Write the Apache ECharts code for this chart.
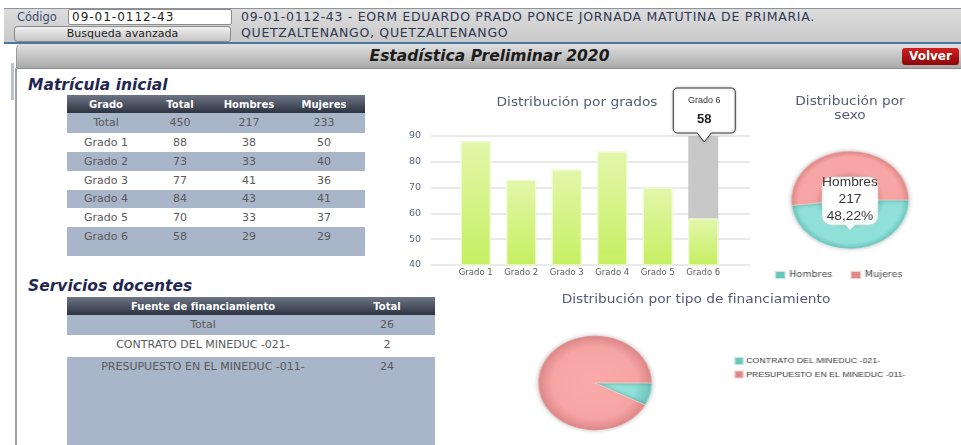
<!DOCTYPE html>
<html lang="es">
<head>
<meta charset="utf-8">
<title>Estadística Preliminar 2020</title>
<script src="https://cdn.jsdelivr.net/npm/echarts/dist/echarts.min.js"></script>
<style>
  html, body { margin: 0; padding: 0; }
  body {
    width: 961px; height: 445px; overflow: hidden; position: relative;
    background: #fff; font-family: 'DejaVu Sans', Verdana, sans-serif;
  }
  .abs { position: absolute; }
  .topbar { left: 4px; top: 8px; width: 957px; height: 34px; background: linear-gradient(#dcdcdc, #c9c9c9); border-top: 1px solid #8d93a0; }
  .blue-line { left: 4px; top: 42px; width: 957px; height: 2px; background: #4a78a6; }
  .lbl-codigo { left: 17px; top: 10px; font-size: 11.5px; line-height: 15px; color: #3d4c78; }
  .input { left: 68px; top: 9px; width: 159px; height: 14px; background: #fff; border: 1px solid #8c8c8c; border-radius: 2px;
    font-size: 12px; line-height: 14px; letter-spacing: 1px; color: #222; padding-left: 3px; }
  .btn { left: 14px; top: 26px; width: 215px; height: 14px; border: 1px solid #8a8a8a; border-radius: 3px;
    background: linear-gradient(#f0f0f0, #c4c4c4); font-size: 11px; line-height: 14px; text-align: center; color: #222; }
  .school { left: 241px; top: 9px; font-size: 12.5px; line-height: 16px; letter-spacing: 0.7px; color: #2f3652; }
  .titlebar { left: 16px; top: 44px; width: 945px; height: 24px; border-radius: 5px 0 0 0;
    background: linear-gradient(#e0e0e0, #aaaaaa); border-bottom: 1px solid #8c8c8c; border-left: 1px solid #9a9a9a;
    text-align: center; font-size: 15.5px; line-height: 25px; font-weight: bold; font-style: italic; color: #1b1b1b; }
  .volver { left: 902px; top: 48px; width: 57px; height: 17px; border-radius: 3px;
    background: linear-gradient(#d22020, #8a0808); color: #fff; font-weight: bold; font-size: 12px; line-height: 17px; text-align: center; }
  .leftline { left: 15px; top: 68px; width: 2px; height: 377px; background: #a2a2a2; }
  .scrollmark { left: 11px; top: 63px; width: 3px; height: 37px; background: #b9c1d2; }
  .heading { font-size: 15.5px; font-weight: bold; font-style: italic; color: #1f2752; line-height: 18px; }
  table.grid { position: absolute; border-collapse: collapse; table-layout: fixed; }
  table.grid th { background: linear-gradient(#6d7586, #2d3340); color: #fff; font-size: 10px; font-weight: bold; height: 18px; padding: 0; text-align: center; }
  table.grid td { padding: 0; text-align: center; vertical-align: top; font-size: 11px; color: #5a5a5a; }
  table.grid tr.alt td { background: #a9b5c9; }
  #main { position: absolute; left: 0; top: 0; width: 961px; height: 445px; z-index: 3; pointer-events: none; }
  .pie { position: absolute; z-index: 2; transform-origin: 0 0; }
</style>
</head>
<body>
<div class="abs topbar"></div>
<div class="abs blue-line"></div>
<div class="abs lbl-codigo">Código</div>
<div class="abs input">09-01-0112-43</div>
<div class="abs btn">Busqueda avanzada</div>
<div class="abs school">09-01-0112-43 - EORM EDUARDO PRADO PONCE JORNADA MATUTINA DE PRIMARIA.<br>QUETZALTENANGO, QUETZALTENANGO</div>
<div class="abs titlebar">Estadística Preliminar 2020</div>
<div class="abs volver">Volver</div>
<div class="abs leftline"></div>
<div class="abs scrollmark"></div>

<div class="abs heading" style="left:28px;top:76px">Matrícula inicial</div>
<table class="grid" id="tblMatricula" style="left:67px;top:95px;width:298px"></table>

<div class="abs heading" style="left:28px;top:277px">Servicios docentes</div>
<table class="grid" id="tblDocentes" style="left:67px;top:297px;width:368px"></table>

<div id="pieSexo" class="pie"></div>
<div id="pieFin" class="pie"></div>
<div id="main"></div>

<script>
// datos
const grados = ['Grado 1', 'Grado 2', 'Grado 3', 'Grado 4', 'Grado 5', 'Grado 6']
const totalPorGrado = [88, 73, 77, 84, 70, 58]
const hombresPorGrado = [38, 33, 41, 43, 33, 29]
const mujeresPorGrado = [50, 40, 36, 41, 37, 29]
const sexos = ['Hombres', 'Mujeres']
const fuentes = ['CONTRATO DEL MINEDUC -021-', 'PRESUPUESTO EN EL MINEDUC -011-']
const docentesPorFuente = [2, 24]
const yMin = 40, yMax = 90, yStep = 10
const hoverIdx = 5  // barra resaltada (tooltip)

const sum = a => a.reduce((s, v) => s + v, 0)
const totalHombres = sum(hombresPorGrado)
const totalMujeres = sum(mujeresPorGrado)
const totalAlumnos = sum(totalPorGrado)

// tablas
function buildTable(id, head, rows, widths, heights) {
  const t = document.getElementById(id)
  let html = '<colgroup>' + widths.map(w => `<col style="width:${w}px">`).join('') + '</colgroup>'
  html += '<tr>' + head.map(h => `<th>${h}</th>`).join('') + '</tr>'
  rows.forEach((r, i) => {
    const h = heights[i]
    html += `<tr class="${i % 2 === 0 ? 'alt' : ''}">` +
      r.map(c => `<td style="height:${h}px;line-height:${Math.min(h, 20)}px">${c}</td>`).join('') + '</tr>'
  })
  t.innerHTML = html
}
buildTable('tblMatricula', ['Grado', 'Total', 'Hombres', 'Mujeres'],
  [['Total', totalAlumnos, totalHombres, totalMujeres]].concat(
    grados.map((g, i) => [g, totalPorGrado[i], hombresPorGrado[i], mujeresPorGrado[i]])),
  [78, 70, 68, 82], [20, 19, 19, 19, 18, 19, 29])
buildTable('tblDocentes', ['Fuente de financiamiento', 'Total'],
  [['Total', sum(docentesPorFuente)]].concat(fuentes.map((f, i) => [f, docentesPorFuente[i]])),
  [272, 96], [20, 22, 92])

// pies (estirados horizontalmente como en la captura)
const STRETCH = 1.2
const TEAL = '#8fe0d8', SALMON = '#f7a4a4'
function radial(cx, cy, r, stops) {
  return { type: 'radial', x: cx, y: cy, r: r, global: true,
    colorStops: stops.map(s => ({ offset: s[0], color: s[1] })) }
}
function makePie(id, box, center, radius, inner, names, values, legend) {
  const el = document.getElementById(id)
  el.style.left = box.left + 'px'
  el.style.top = box.top + 'px'
  el.style.width = box.width + 'px'
  el.style.height = box.height + 'px'
  el.style.transform = `scaleX(${STRETCH})`
  const cx = (center[0] - box.left) / STRETCH, cy = center[1] - box.top
  const k = inner / radius
  const tealStops = inner ? [[k, '#6fcac0'], [k + 0.12, TEAL], [0.88, TEAL], [1, '#6cc6bc']]
                          : [[0, '#97e6de'], [0.7, TEAL], [1, '#6cc6bc']]
  const salStops = inner ? [[k, '#e58e8e'], [k + 0.12, SALMON], [0.88, SALMON], [1, '#e08989']]
                         : [[0, '#fbaaaa'], [0.75, SALMON], [1, '#de8888']]
  const chart = echarts.init(el)
  chart.setOption({
    animation: false,
    textStyle: { fontFamily: 'DejaVu Sans' },
    color: [TEAL, SALMON],
    legend: Object.assign({ icon: 'rect', data: names, selectedMode: false, padding: 0 }, legend),
    series: [{
      type: 'pie',
      center: [cx, cy],
      radius: [inner, radius],
      startAngle: 0,
      clockwise: true,
      silent: true,
      label: { show: false },
      labelLine: { show: false },
      itemStyle: { borderColor: 'rgba(255,255,255,0.6)', borderWidth: 0.6, shadowBlur: 4, shadowColor: 'rgba(0,0,0,0.25)' },
      data: names.map((n, i) => ({
        name: n, value: values[i],
        itemStyle: { color: radial(cx, cy, radius, i === 0 ? tealStops : salStops) }
      }))
    }]
  })
}

const SEX_C = [850, 200]
const FIN_C = [595, 383]
makePie('pieSexo', { left: 740, top: 140, width: 184, height: 150 }, SEX_C, 49, 23,
  sexos, [totalHombres, totalMujeres],
  { left: 28, top: 130, itemWidth: 9, itemHeight: 8, itemGap: 14,
    textStyle: { fontSize: 8, color: '#444', padding: [0, 0, 0, -2] } })
makePie('pieFin', { left: 520, top: 320, width: 330, height: 125 }, FIN_C, 47.5, 0,
  fuentes, docentesPorFuente,
  { orient: 'vertical', left: 177.5, top: 36, itemWidth: 8, itemHeight: 8, itemGap: 3.5,
    textStyle: { fontSize: 7.3, color: '#333', fontFamily: 'Liberation Sans', padding: [0, 0, 0, -3] } })

// barras
const chart = echarts.init(document.getElementById('main'))
const barColor = {
  type: 'linear', x: 0, y: 0, x2: 0, y2: 1,
  colorStops: [{ offset: 0, color: '#e2f7aa' }, { offset: 1, color: '#c6ef62' }]
}
chart.setOption({
  animation: false,
  textStyle: { fontFamily: 'DejaVu Sans' },
  grid: [
    { left: 431, right: 211, top: 136, bottom: 180 },
    { left: 453, right: 235, top: 136, bottom: 180 }
  ],
  xAxis: [
    { gridIndex: 0, type: 'category', data: grados, show: false },
    { gridIndex: 1, type: 'category', data: grados,
      axisLine: { show: false }, axisTick: { show: false },
      axisLabel: { interval: 0, fontSize: 8.5, color: '#5c5c5c', margin: 3 } }
  ],
  yAxis: [
    { gridIndex: 0, type: 'value', min: yMin, max: yMax, interval: yStep,
      axisLine: { show: false }, axisTick: { show: false },
      axisLabel: { fontSize: 9.5, color: '#56627f', margin: 10 },
      splitLine: { lineStyle: { color: '#e2e2e2', width: 1.5 } } },
    { gridIndex: 1, type: 'value', min: yMin, max: yMax, interval: yStep, show: false }
  ],
  series: [
    { type: 'bar', name: 'sombra', xAxisIndex: 1, yAxisIndex: 1, barWidth: 30, silent: true,
      data: grados.map((g, i) => (i === hoverIdx ? yMax : '-')),
      itemStyle: { color: '#c8c8c8' }, z: 1 },
    { type: 'bar', name: 'Matrícula', xAxisIndex: 1, yAxisIndex: 1, barWidth: 30, barGap: '-100%',
      data: totalPorGrado,
      itemStyle: { color: barColor, borderColor: '#effcd2', borderWidth: 1 }, z: 2 }
  ]
})

// contorno de globo con esquinas redondeadas y flecha hacia abajo
function callout(x0, y0, x1, y1, tx, ty, r, hw) {
  const pts = []
  const arc = (cx, cy, a0) => {
    for (let s = 0; s <= 4; s++) {
      const a = (a0 + s * 22.5) * Math.PI / 180
      pts.push([cx + r * Math.cos(a), cy + r * Math.sin(a)])
    }
  }
  arc(x0 + r, y0 + r, 180)
  arc(x1 - r, y0 + r, 270)
  arc(x1 - r, y1 - r, 0)
  pts.push([tx + hw, y1], [tx, ty], [tx - hw, y1])
  arc(x0 + r, y1 - r, 90)
  return pts
}

const p = chart.convertToPixel({ xAxisIndex: 1, yAxisIndex: 1 }, [grados[hoverIdx], yMax])
const pct = (totalHombres / totalAlumnos * 100).toFixed(2).replace('.', ',') + '%'
// la captura tiene el texto algo ensanchado
const titleStyle = { fill: '#545a78', fontSize: 12.5, fontFamily: 'DejaVu Sans', align: 'center', verticalAlign: 'middle' }
const wide = 1.1
chart.setOption({
  graphic: [
    { type: 'text', x: 577, y: 103, scaleX: wide, style: Object.assign({ text: 'Distribución por grados' }, titleStyle) },
    { type: 'text', x: 850, y: 109, scaleX: wide, style: Object.assign({ text: 'Distribución por\nsexo', lineHeight: 14 }, titleStyle) },
    { type: 'text', x: 696, y: 300, scaleX: wide, style: Object.assign({ text: 'Distribución por tipo de financiamiento' }, titleStyle) },
    // tooltip de la barra
    { type: 'polygon', z: 50,
      shape: { points: callout(p[0] - 30, p[1] - 48, p[0] + 32, p[1] - 3, p[0] + 1, p[1] + 6, 4, 7) },
      style: { fill: '#fff', stroke: '#3a3a3a', lineWidth: 1, shadowBlur: 3, shadowColor: 'rgba(0,0,0,0.25)' } },
    { type: 'text', z: 51, x: p[0] + 1, y: p[1] - 35,
      style: { text: grados[hoverIdx], fontSize: 9, fill: '#333', align: 'center', verticalAlign: 'middle' } },
    { type: 'text', z: 51, x: p[0] + 1, y: p[1] - 17,
      style: { text: String(totalPorGrado[hoverIdx]), fontSize: 13, fontWeight: 'bold', fill: '#222', align: 'center', verticalAlign: 'middle' } },
    // tooltip del donut
    { type: 'polygon', z: 50,
      shape: { points: callout(SEX_C[0] - 28, SEX_C[1] - 23, SEX_C[0] + 28, SEX_C[1] + 25, SEX_C[0], SEX_C[1] + 30, 9, 5) },
      style: { fill: 'rgba(255,255,255,0.9)', stroke: 'rgba(210,210,210,0.7)', lineWidth: 1 } },
    { type: 'text', z: 51, x: SEX_C[0], y: SEX_C[1], scaleX: wide,
      style: { text: `${sexos[0]}\n${totalHombres}\n${pct}`, lineHeight: 17, fontSize: 12.5, fill: '#3a3a3a',
        align: 'center', verticalAlign: 'middle' } }
  ]
})
</script>
</body>
</html>
